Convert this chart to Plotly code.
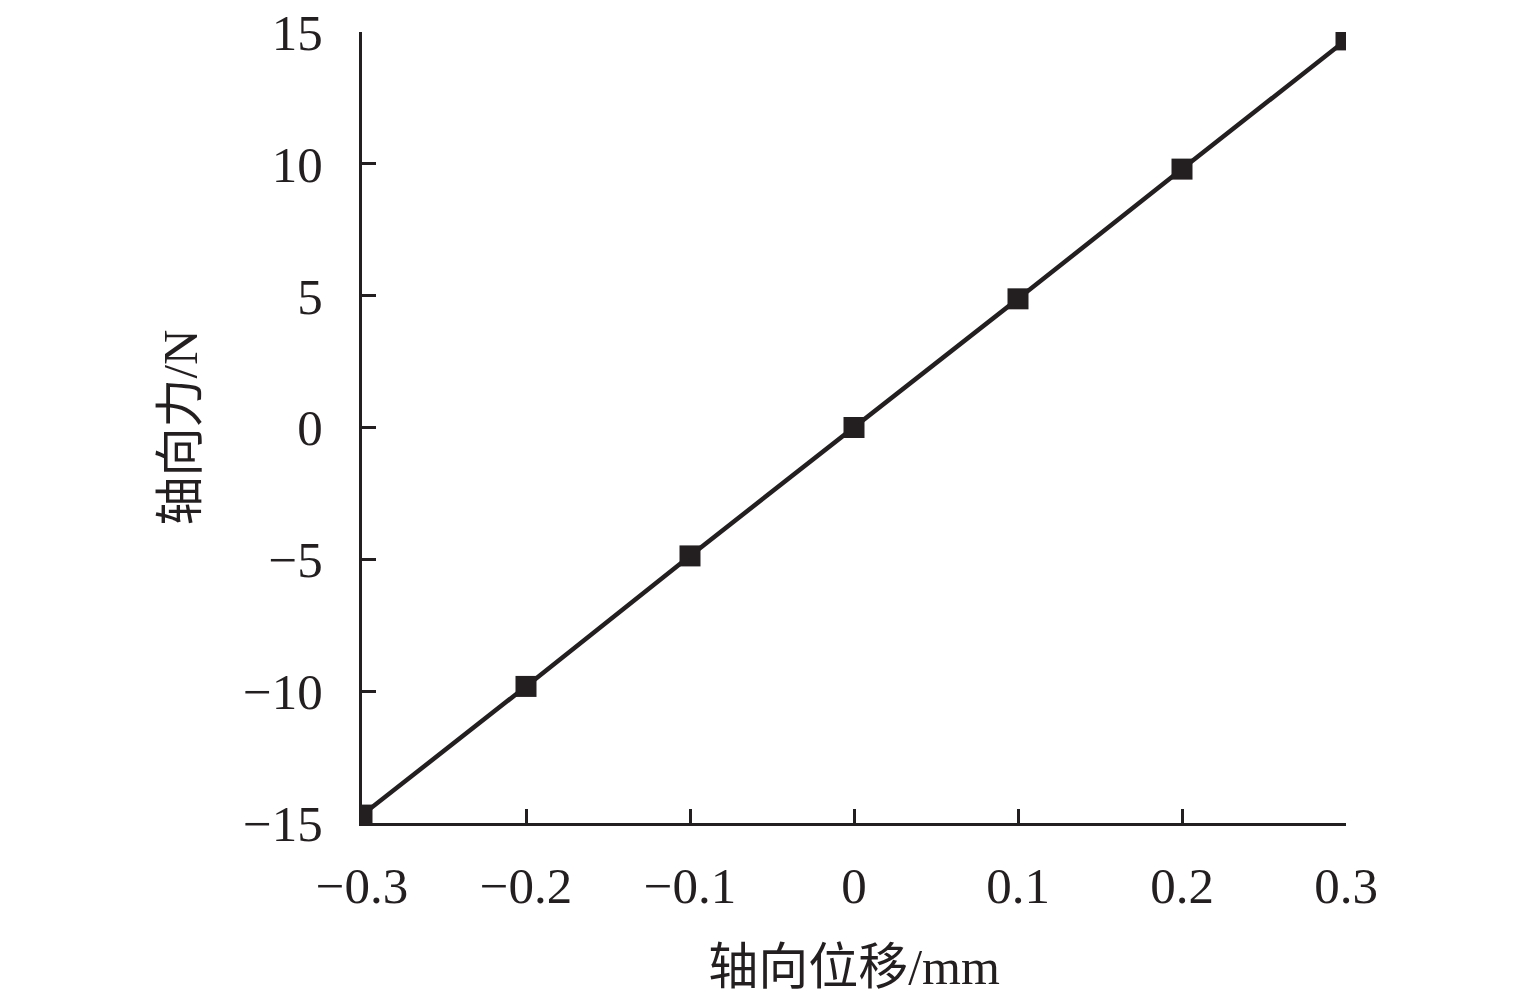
import plotly.graph_objects as go

displacement = [-0.3, -0.2, -0.1, 0.0, 0.1, 0.2, 0.3]
force = [-14.7, -9.82, -4.87, 0.0, 4.88, 9.8, 14.7]

x_ticks = [-0.3, -0.2, -0.1, 0, 0.1, 0.2, 0.3]
x_tick_text = ["\u22120.3", "\u22120.2", "\u22120.1", "0", "0.1", "0.2", "0.3"]
y_ticks = [-15, -10, -5, 0, 5, 10, 15]
y_tick_text = ["\u221215", "\u221210", "\u22125", "0", "5", "10", "15"]

font_family = "Liberation Serif, Times New Roman, Noto Sans CJK SC"
col = "#231f20"

fig = go.Figure()
fig.add_trace(go.Scatter(
    x=displacement, y=force, mode="lines+markers",
    line=dict(color=col, width=4.5),
    marker=dict(symbol="square", size=21, color=col),
    cliponaxis=True, showlegend=False,
))

fig.update_layout(
    width=1535, height=1004,
    margin=dict(l=354, r=197, t=24, b=189),
    paper_bgcolor="white", plot_bgcolor="white",
    font=dict(family=font_family, size=51, color=col),
    xaxis=dict(
        range=[-0.3, 0.3], tickvals=x_ticks, ticktext=x_tick_text,
        ticks="inside", ticklen=14, tickwidth=2.5, tickcolor=col,
        showline=True, linewidth=3, linecolor=col, showgrid=False, zeroline=False,
        ticklabelstandoff=16, automargin=False, ticklabeloverflow="allow",
        title=dict(text="轴向位移/mm", font=dict(size=50, family=font_family), standoff=36),
    ),
    yaxis=dict(
        range=[-15, 15], tickvals=y_ticks, ticktext=y_tick_text,
        ticks="inside", ticklen=14, tickwidth=2.5, tickcolor=col,
        showline=True, linewidth=3, linecolor=col, showgrid=False, zeroline=False,
        ticklabelstandoff=26, automargin=False, ticklabeloverflow="allow",
        title=dict(text="轴向力/N", font=dict(size=49, family=font_family), standoff=30),
    ),
)

fig.write_html("out.html")
